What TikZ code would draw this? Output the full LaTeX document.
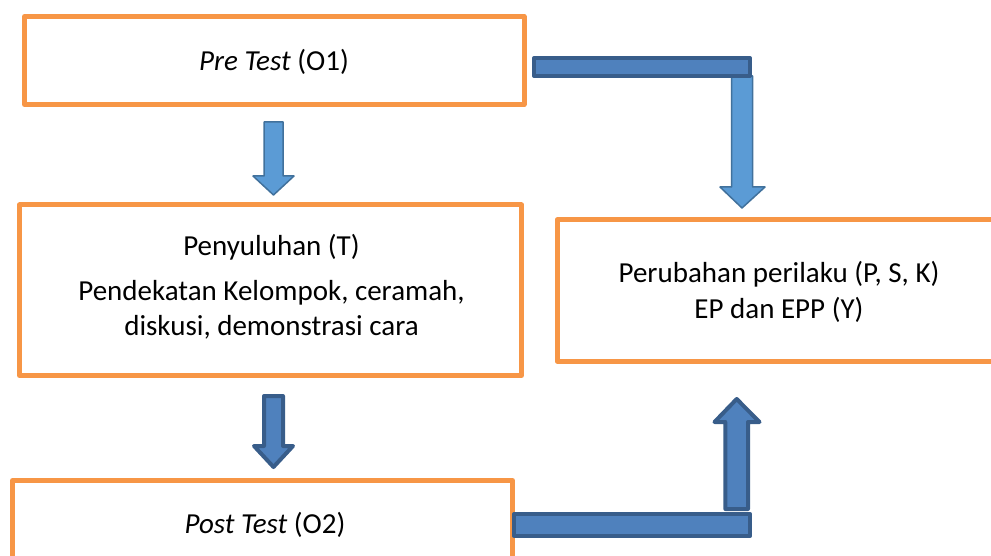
\documentclass[tikz,border=0pt]{standalone}
\usepackage{fontspec}
\setmainfont{Carlito}
\definecolor{boxorange}{HTML}{F79646}
\definecolor{lightfill}{HTML}{5B9BD5}
\definecolor{lightline}{HTML}{41719C}
\definecolor{darkfill}{HTML}{4F81BD}
\definecolor{darkline}{HTML}{385D8A}
\tikzset{
  flowbox/.style={draw=boxorange, line width=5pt, rectangle, inner sep=0pt, line join=round},
  boxtext/.style={inner sep=0pt, anchor=base, font=\fontsize{29}{35}\selectfont},
  lightarrow/.style={fill=lightfill, draw=lightline, line width=1.5pt, line join=round},
  darkarrow/.style={fill=darkfill, draw=darkline, line width=4pt, line join=round},
}
\begin{document}
\begin{tikzpicture}[x=1pt,y=-1pt]
\useasboundingbox (0,0) rectangle (991,556);
\clip (0,0) rectangle (991,556);
% boxes
\node (pre) [flowbox, minimum width=499.5pt, minimum height=88pt] at (274.25,60.5) {};
\node (peny) [flowbox, minimum width=502pt, minimum height=170.5pt] at (270.5,290.25) {};
\node (perub) [flowbox, minimum width=444pt, minimum height=141pt] at (779,290.5) {};
\node (post) [flowbox, minimum width=500pt, minimum height=109.5pt] at (262.5,535.25) {};
% texts
\node (pretext) [boxtext] at (274,71) {\textit{Pre Test} (O1)};
\node (pen1) [boxtext] at (271.5,256) {Penyuluhan (T)};
\node (pen2) [boxtext] at (271.5,300) {Pendekatan Kelompok, ceramah,};
\node (pen3) [boxtext] at (271.5,335) {diskusi, demonstrasi cara};
\node (per1) [boxtext] at (779,283) {Perubahan perilaku (P, S, K)};
\node (per2) [boxtext] at (779,318) {EP dan EPP (Y)};
\node (posttext) [boxtext] at (265,533) {\textit{Post Test} (O2)};
% arrow pre -> penyuluhan
\draw[lightarrow] (264,122) -- (283,122) -- (283,176) -- (294,176) -- (273.5,195) -- (253,176) -- (264,176) -- cycle;
% arrow penyuluhan -> post
\draw[darkarrow] (264,396) -- (283,396) -- (283,446) -- (293,446) -- (273.5,467) -- (254,446) -- (264,446) -- cycle;
% top elbow arrow pre -> perubahan
\draw[lightarrow] (731.5,76) -- (752.5,76) -- (752.5,187) -- (765,187) -- (742,208) -- (720,187) -- (731.5,187) -- cycle;
\draw[darkarrow] (534,58) rectangle (750,76);
% bottom elbow arrow post -> perubahan
\draw[darkarrow] (725.3,509) -- (748,509) -- (748,422) -- (759.5,422) -- (736.7,399) -- (714.5,422) -- (725.3,422) -- cycle;
\draw[darkarrow] (514,514.3) rectangle (750.3,535.7);
\end{tikzpicture}
\end{document}
